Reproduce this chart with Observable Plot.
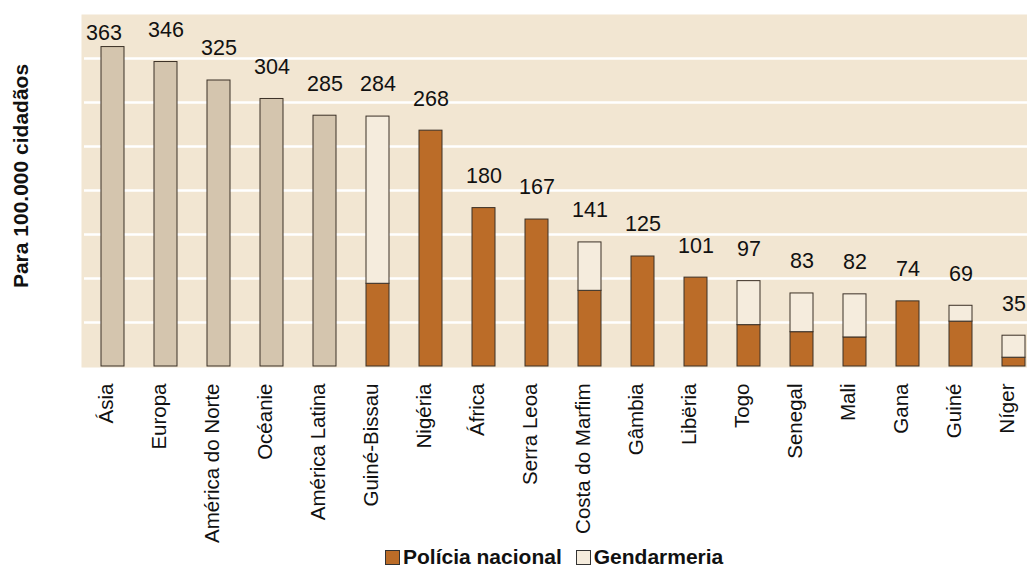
<!DOCTYPE html>
<html>
<head>
<meta charset="utf-8">
<script src="https://cdn.jsdelivr.net/npm/d3@7"></script>
<script src="https://cdn.jsdelivr.net/npm/@observablehq/plot@0.6"></script>
<style>
  html, body { margin: 0; padding: 0; background: #fff; }
  body { width: 1027px; height: 567px; overflow: hidden; position: relative; font-family: "Liberation Sans", Arial, sans-serif; }
  #chart { height: 547px; }
  #legend { position: absolute; left: 385px; top: 547px; height: 20px; display: flex; align-items: center; font-weight: bold; font-size: 21px; color: #111; }
  #legend .sw { width: 15px; height: 15px; border: 1px solid #333; margin-right: 3px; box-sizing: border-box; }
  #legend .item { display: flex; align-items: center; margin-right: 14px; }
</style>
</head>
<body>
<div id="chart"></div>
<div id="legend">
  <div class="item"><div class="sw" style="background:#bb6c28"></div>Polícia nacional</div>
  <div class="item"><div class="sw" style="background:#f5ecdd"></div>Gendarmeria</div>
</div>
<script>
const categories = ["Ásia","Europa","América do Norte","Océanie","América Latina","Guiné-Bissau","Nigéria","África","Serra Leoa","Costa do Marfim","Gâmbia","Libëria","Togo","Senegal","Mali","Gana","Guiné","Níger"];
const totals      = [363, 346, 325, 304, 285, 284, 268, 180, 167, 141, 125, 101, 97, 83, 82, 74, 69, 35];
const regional    = [363, 346, 325, 304, 285, 0, 0, 0, 0, 0, 0, 0, 0, 0, 0, 0, 0, 0];
const policia     = [0, 0, 0, 0, 0, 94, 268, 180, 167, 86, 125, 101, 47, 39, 33, 74, 51, 10];
const gendarmeria = [0, 0, 0, 0, 0, 190, 0, 0, 0, 55, 0, 0, 50, 44, 49, 0, 18, 25];
const gridValues  = [50, 100, 150, 200, 250, 300, 350];

const rows = [];
categories.forEach((c, i) => {
  if (regional[i]) rows.push({cat: c, type: "Regiões", value: regional[i]});
  if (policia[i]) rows.push({cat: c, type: "Polícia nacional", value: policia[i]});
  if (gendarmeria[i]) rows.push({cat: c, type: "Gendarmeria", value: gendarmeria[i]});
});
const labels = categories.map((c, i) => ({cat: c, total: totals[i]}));

const plot = Plot.plot({
  width: 1027,
  height: 547,
  marginLeft: 81,
  marginRight: 0,
  marginTop: 14,
  marginBottom: 180,
  style: {fontFamily: "'Liberation Sans', Arial, sans-serif", background: "transparent"},
  x: {domain: categories, range: [82.3, 1042.6], paddingInner: 0.57, paddingOuter: 0.285, axis: null},
  y: {domain: [0, 400], range: [366, 14], axis: null},
  color: {domain: ["Regiões", "Polícia nacional", "Gendarmeria"], range: ["#d4c5ae", "#bb6c28", "#f5ecdd"]},
  marks: [
    Plot.frame({fill: "#f2e6d2", stroke: null}),
    Plot.ruleY(gridValues, {stroke: "#ffffff", strokeWidth: 2.5, insetLeft: 3}),
    Plot.barY(rows, Plot.stackY({x: "cat", y: "value", fill: "type", stroke: "#3b3026", strokeWidth: 1})),
    Plot.text(labels.slice(1), {x: "cat", y: "total", text: d => String(d.total), dy: -32, fontSize: 21.5, fill: "#111"}),
    Plot.text(labels.slice(0, 1), {x: "cat", y: d => Math.min(d.total, 342), text: d => String(d.total), dy: -32, dx: -9, fontSize: 21.5, fill: "#111"}),
    Plot.text(categories, {x: d => d, frameAnchor: "bottom", rotate: -90, textAnchor: "end", dy: 16, fontSize: 20.5, fill: "#111"})
  ]
});

d3.select(plot).append("text")
  .attr("transform", "translate(20,176) rotate(-90)")
  .attr("text-anchor", "middle")
  .attr("dominant-baseline", "central")
  .attr("font-weight", "bold")
  .attr("font-size", 21)
  .attr("fill", "#111")
  .text("Para 100.000 cidadãos");

document.getElementById("chart").appendChild(plot);
</script>
</body>
</html>
